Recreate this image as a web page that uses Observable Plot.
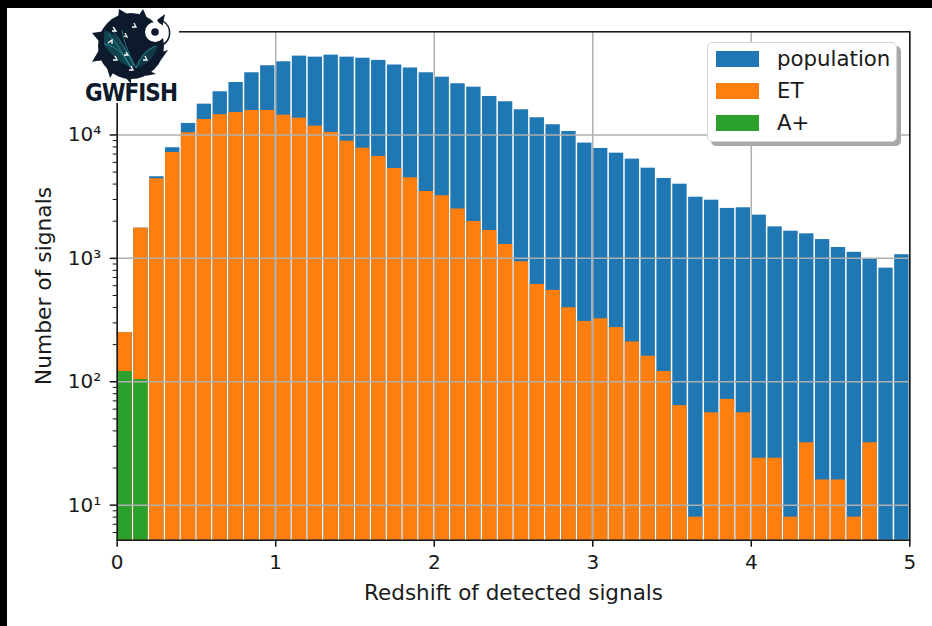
<!DOCTYPE html>
<html>
<head>
<meta charset="utf-8">
<script src="https://cdn.jsdelivr.net/npm/d3@7"></script>
<script src="https://cdn.jsdelivr.net/npm/@observablehq/plot@0.6"></script>
<style>
html,body{margin:0;padding:0;width:932px;height:626px;overflow:hidden;background:#000;}
#page{position:absolute;left:7px;top:8px;width:925px;height:618px;background:#fff;}
#chart{position:absolute;left:0;top:0;width:932px;height:626px;}
#chart svg{display:block;background:transparent;}
#chart g[aria-label="x-axis tick label"]{font-size:20px;}
#chart g[aria-label="y-axis tick label"]{font-size:20px;}
#chart g[aria-label="x-axis label"]{font-size:21.5px;}
#chart g[aria-label="y-axis label"]{font-size:21.8px;}
#logo{position:absolute;left:83px;top:8px;}
#legend{position:absolute;left:707px;top:42px;width:190px;height:100px;background:#fff;border:1.5px solid #d6d6d6;border-radius:5px;box-shadow:4px 4px 0 #a8a8a8;font:21.3px "DejaVu Sans",sans-serif;color:#1a1a1a;box-sizing:border-box;}
#legend div{position:absolute;left:8px;height:32px;line-height:30px;white-space:nowrap;}
#legend i{position:absolute;left:0;top:7px;width:43px;height:16px;}
#legend span{position:absolute;left:61px;top:0;}
</style>
</head>
<body>
<div id="page"></div>
<div id="chart"></div>
<svg id="logo" width="98" height="104" viewBox="83 8 98 104">
  <rect x="83" y="8" width="96" height="95" fill="#fff"/>
  <g fill="#0c1a2b">
    <circle cx="131" cy="46" r="33"/>
    <path d="M92 33 L112 30 L110 60 L93 61 L103 46Z"/>
    <path d="M118 19 L119 9 L129 15Z M139 15 L143 9 L147 18Z M157 20 L165 14 L162 28Z M162 52 L168 50 L161 60Z M150 71 L156 74 L145 76Z M131 78 L131 84 L125 77Z M113 73 L110 78 L107 68Z M100 60 L92 62 L99 50Z"/>
  </g>
  <path d="M104 30 C118 34 128 50 134 68 C124 66 110 56 104 44Z" fill="#15505c" opacity="0.75"/>
  <path d="M158 46 C148 46 140 54 136 68 C146 66 154 58 158 46Z" fill="#15505c" opacity="0.6"/>
  <g fill="none" stroke="#36b0bd" stroke-width="0.7" opacity="0.9">
    <path d="M108 34 C118 44 124 56 131 68"/>
    <path d="M112 30 C122 42 128 54 134 66"/>
    <path d="M122 30 C124 44 130 56 136 68"/>
    <path d="M156 46 C146 50 140 58 136 68"/>
    <path d="M104 44 C116 46 124 54 130 66"/>
  </g>
  <g fill="none" stroke="#fff" stroke-width="1.3">
    <path d="M113 27 L116 31 L112 31"/><path d="M134 23 L136 27 L132 27"/><path d="M124 36 L127 37 L125 33"/>
    <path d="M108 43 L112 40 L112 44"/><path d="M126 52 L128 55 L124 55"/><path d="M115 56 L117 60 L113 60"/>
    <path d="M145 56 L147 60 L143 60"/><path d="M131 66 L133 70 L129 70"/>
  </g>
  <circle cx="155" cy="32" r="10" fill="#fff"/>
  <circle cx="155" cy="32" r="3.8" fill="#0c1a2b"/>
  <path d="M163 21 C172 27 172 40 162 45" fill="none" stroke="#0c1a2b" stroke-width="1.5"/>
  <text x="85" y="101" textLength="93" lengthAdjust="spacing" font-family="Liberation Sans Narrow, DejaVu Sans Condensed" font-weight="700" font-size="24" fill="#0c1a2b">GWFISH</text>
</svg>
<div id="legend"></div>
<script>
const binWidth = 0.1;
const population = [250,1757,4585,7880,12400,17770,22390,26610,31920,36380,39180,43550,42730,44360,42730,41880,40180,36900,34900,31920,29400,26000,24400,20510,18580,16000,13780,12100,10670,8590,7775,7120,6370,5380,4440,3990,3130,2960,2540,2570,2240,1800,1660,1580,1420,1225,1120,998,833,1070];
const et = [250,1757,4416,7215,10420,13360,14590,15220,15800,15800,14470,13680,11790,10480,8910,7815,6700,5354,4500,3483,3215,2512,1991,1683,1297,938,615,550,398,308,324,275,210,161,121,64,8,56,72,56,24,24,8,32,16,16,8,32,0,0];
const aplus = [121,104];
const seriesNames = ["population","ET","A+"];
const seriesColors = ["#1f77b4","#ff7f0e","#2ca02c"];
const xTicks = [0,1,2,3,4,5];
const yMajor = [10,100,1000,10000];
const yMinor = [6,7,8,9,20,30,40,50,60,70,80,90,200,300,400,500,600,700,800,900,2000,3000,4000,5000,6000,7000,8000,9000,20000,30000,40000,50000,60000];
const yLabels = {10:"10¹",100:"10²",1000:"10³",10000:"10⁴"};
const yMin = 5.2, yMax = 68550;

const rows = vals => vals.map((v,i)=>({x1:i*binWidth,x2:(i+1)*binWidth,y:v})).filter(d=>d.y>0);
const bars = (vals,color) => Plot.rectY(rows(vals),{x1:"x1",x2:"x2",y1:yMin,y2:"y",fill:color,insetLeft:0.75,insetRight:0.75});

const plot = Plot.plot({
  width:932,height:626,
  marginLeft:116.7,marginRight:22.7,marginTop:31.3,marginBottom:86.3,
  style:{fontFamily:"DejaVu Sans",fontSize:"17px",color:"#1a1a1a",background:"transparent"},
  x:{domain:[0,5]},
  y:{type:"log",domain:[yMin,yMax]},
  marks:[
    bars(population,seriesColors[0]),
    bars(et,seriesColors[1]),
    bars(aplus,seriesColors[2]),
    Plot.gridX(xTicks,{stroke:"#b0b0b0",strokeOpacity:1,strokeWidth:1.5}),
    Plot.gridY(yMajor,{stroke:"#b0b0b0",strokeOpacity:1,strokeWidth:1.5}),
    Plot.frame({stroke:"#111",strokeWidth:1.5}),
    Plot.axisX(xTicks,{tickSize:7,tickPadding:8,strokeWidth:1.5,stroke:"#111",tickFormat:d=>String(d),label:"Redshift of detected signals",labelAnchor:"center",labelArrow:"none",labelOffset:60}),
    Plot.axisY(yMajor,{tickSize:7,tickPadding:9,strokeWidth:1.5,stroke:"#111",tickFormat:d=>yLabels[d],label:"Number of signals",labelAnchor:"center",labelArrow:"none",labelOffset:82}),
    Plot.axisY(yMinor,{tickSize:4,strokeWidth:1,stroke:"#111",tickFormat:()=>"",label:null})
  ]
});
document.getElementById("chart").appendChild(plot);

const tops = [0,32,64];
const legend = document.getElementById("legend");
seriesNames.forEach((n,i)=>{
  const row=document.createElement("div");
  row.style.top=(tops[i]+1)+"px";
  const sw=document.createElement("i");sw.style.background=seriesColors[i];
  const tx=document.createElement("span");tx.textContent=n;
  row.append(sw,tx);legend.appendChild(row);
});
</script>
</body>
</html>
